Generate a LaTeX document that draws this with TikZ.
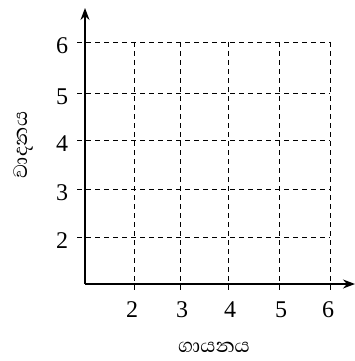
\documentclass[tikz,border=0pt]{standalone}
\usepackage{fontspec}
\setmainfont{Liberation Serif}
\newfontfamily\sinhalafont[Script=Sinhala]{Abhaya Libre}
\usetikzlibrary{arrows.meta}
\begin{document}
\begin{tikzpicture}[x=1pt,y=-1pt,
  axis/.style={line width=1.3pt,-{Stealth[length=12pt,width=9pt]}},
  gridline/.style={line width=0.9pt,dash pattern=on 5pt off 4pt},
  num/.style={font=\fontsize{24}{24}\selectfont, inner sep=0pt},
  lab/.style={font=\sinhalafont\fontsize{25}{25}\selectfont, inner sep=0pt}]
\useasboundingbox (0,0) rectangle (355,361);
\coordinate (O) at (85,284);
\coordinate (xend) at (355,284);
\coordinate (yend) at (85,8);
% vertical grid lines
\foreach \v/\x/\lx in {2/134/132, 3/180/182, 4/228/230, 5/279/281, 6/330/328}{
  \coordinate (vt\v) at (\x,42);
  \coordinate (vb\v) at (\x,291);
  \draw[gridline] (vt\v) -- (vb\v);
  \node[num] (xl\v) at (\lx,310) {\v};
}
% horizontal grid lines
\foreach \v/\y in {6/42, 5/93, 4/140, 3/189, 2/237}{
  \coordinate (hl\v) at (77,\y);
  \coordinate (hr\v) at (330,\y);
  \draw[gridline] (hl\v) -- (hr\v);
  \node[num] (yl\v) at (62,\y+4) {\v};
}
\draw[axis] (O) -- (xend);
\draw[axis] (O) -- (yend);
\node[lab] (xlab) at (214,347) {ගායනය};
\node[lab,rotate=90] (ylab) at (24,145) {වාදනය};
\end{tikzpicture}
\end{document}
